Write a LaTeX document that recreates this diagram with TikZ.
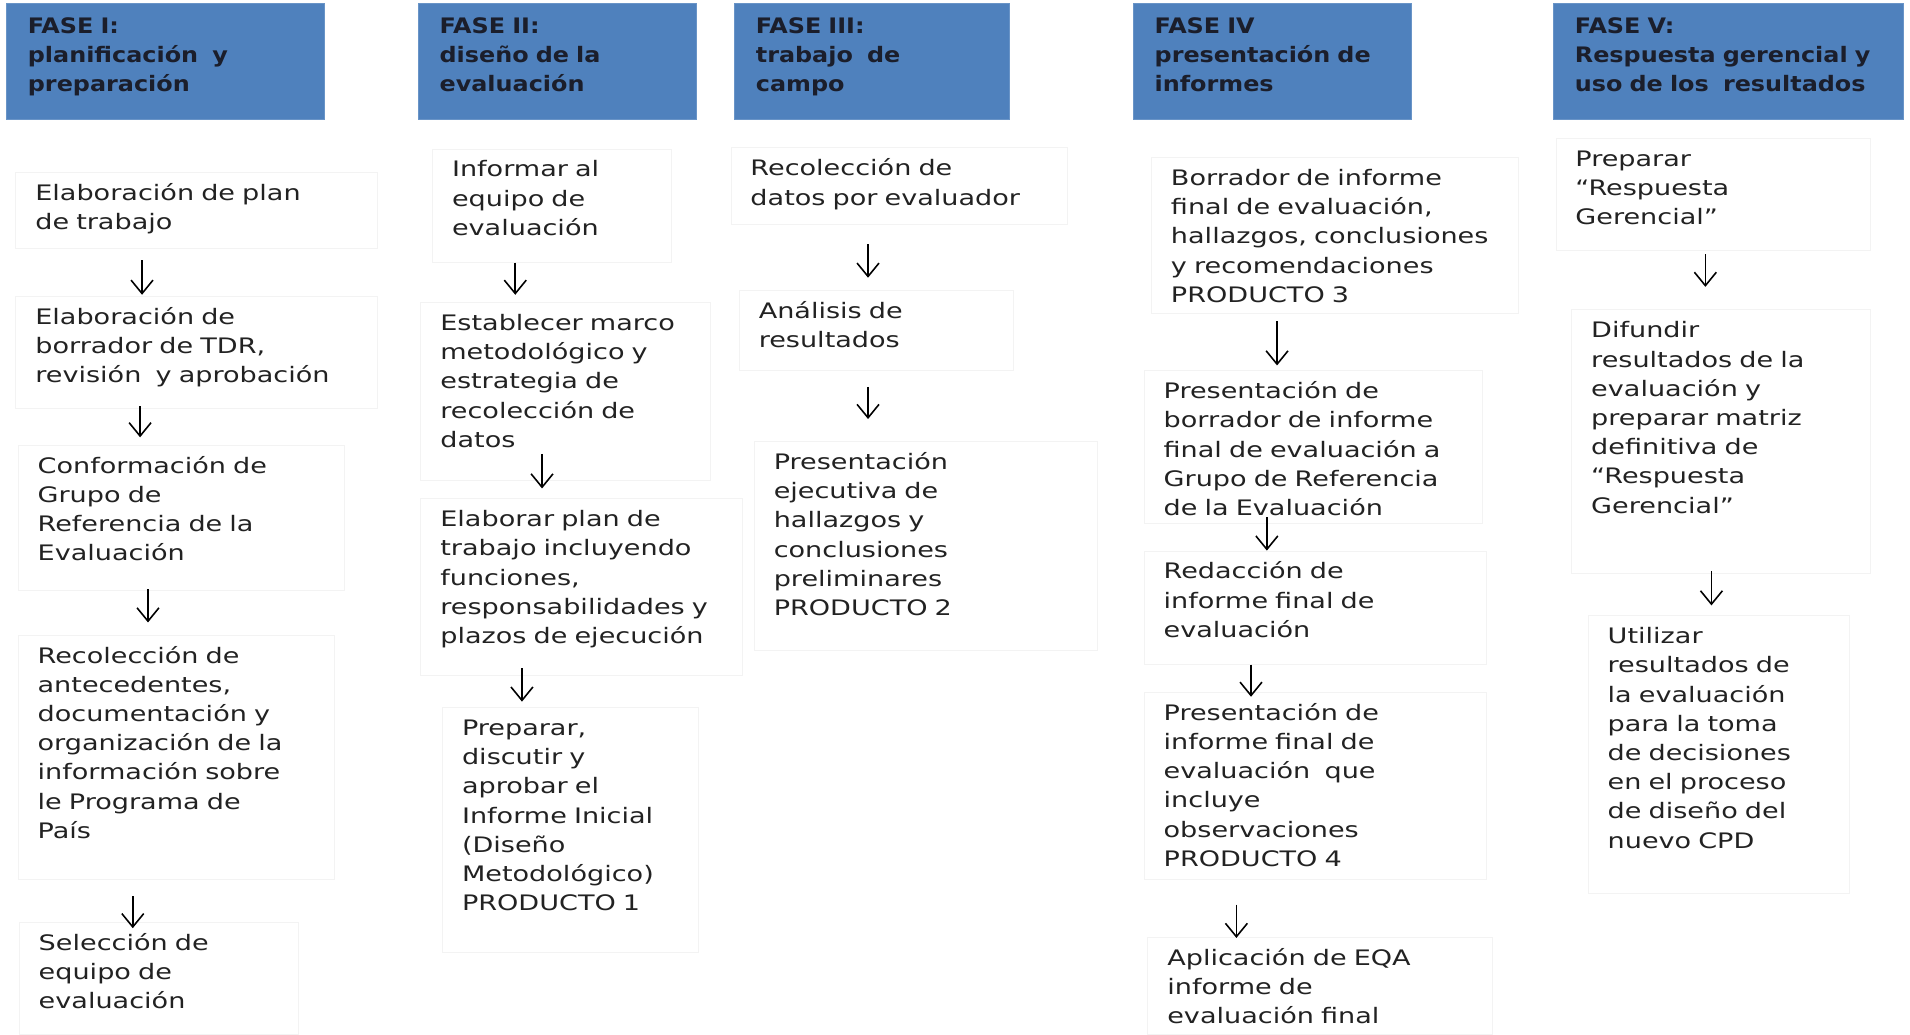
\documentclass[tikz,border=0pt]{standalone}
\usepackage{fontspec}
\usetikzlibrary{arrows.meta}
\newfontfamily\cuerpofont{DejaVu Sans}[FakeStretch=1.27]
\newfontfamily\fasefont{DejaVu Sans}[FakeStretch=1.12]
\definecolor{faseBlue}{HTML}{4F81BD}
\definecolor{faseInk}{HTML}{1B1E2B}
\definecolor{cajaInk}{HTML}{222222}
\definecolor{cajaLine}{HTML}{F3F3F3}
\tikzset{
    fase/.style={fill=faseBlue, draw=faseBlue!85!white, line width=0.8pt, anchor=north west, inner xsep=17.5pt, inner ysep=0pt, text height=25pt, align=left, text=faseInk, font=\fasefont\bfseries\fontsize{17.5}{23.5}\selectfont},
    caja/.style={draw=cajaLine, line width=0.6pt, anchor=north west, inner xsep=16pt, inner ysep=0pt, text height=23pt, align=left, text=cajaInk, font=\cuerpofont\fontsize{17.5}{24}\selectfont},
    flecha/.style={-{Straight Barb[length=11pt,width=18pt]}, line width=1.3pt, draw=black}
}
\begin{document}
\begin{tikzpicture}[x=1pt, y=-1pt]
\fill[white] (0,0) rectangle (1568,849);
\useasboundingbox (0,0) rectangle (1568,849);
\node[fase, text width=226pt, text depth=70pt] (f1) at (5,2.5) {FASE I:\\planificación\ \ y\\preparación};
\node[fase, text width=193pt, text depth=70pt] (f2) at (343,2.5) {FASE II:\\diseño de la\\evaluación};
\node[fase, text width=191pt, text depth=70pt] (f3) at (602.6,2.5) {FASE III:\\trabajo\ \ de\\campo};
\node[fase, text width=193pt, text depth=70pt] (f4) at (930,2.5) {FASE IV\\presentación de\\informes};
\node[fase, text width=252pt, text depth=70pt] (f5) at (1275,2.5) {FASE V:\\Respuesta gerencial y\\uso de los\ \ resultados};
\node[caja, text width=265pt, text depth=39.6pt] (c1a) at (12.7,141) {Elaboración de plan\\de trabajo};
\node[caja, text width=265pt, text depth=69pt] (c1b) at (12.7,243) {Elaboración de\\borrador de TDR,\\revisión\ \ y aprobación};
\node[caja, text width=236pt, text depth=96pt] (c1c) at (14.6,365) {Conformación de\\Grupo de\\Referencia de la\\Evaluación};
\node[caja, text width=228pt, text depth=178pt] (c1d) at (14.6,521) {Recolección de\\antecedentes,\\documentación y\\organización de la\\información sobre\\le Programa de\\País};
\node[caja, text width=197pt, text depth=69pt] (c1e) at (15.5,757) {Selección de\\equipo de\\evaluación};
\node[caja, text width=164pt, text depth=70pt] (c2a) at (354.8,122) {Informar al\\equipo de\\evaluación};
\node[caja, text width=206pt, text depth=123pt] (c2b) at (345.2,248) {Establecer marco\\metodológico y\\estrategia de\\recolección de\\datos};
\node[caja, text width=232pt, text depth=122pt] (c2c) at (345.2,409) {Elaborar plan de\\trabajo incluyendo\\funciones,\\responsabilidades y\\plazos de ejecución};
\node[caja, text width=178pt, text depth=178pt] (c2d) at (363,580.5) {Preparar,\\discutir y\\aprobar el\\Informe Inicial\\(Diseño\\Metodológico)\\PRODUCTO 1};
\node[caja, text width=244pt, text depth=40pt] (c3a) at (599.8,121) {Recolección de\\datos por evaluador};
\node[caja, text width=193pt, text depth=43pt] (c3b) at (606.6,238) {Análisis de\\resultados};
\node[caja, text width=250pt, text depth=149pt] (c3c) at (618.9,362) {Presentación\\ejecutiva de\\hallazgos y\\conclusiones\\preliminares\\PRODUCTO 2};
\node[caja, text width=269pt, text depth=105pt] (c4a) at (945,129) {Borrador de informe\\final de evaluación,\\hallazgos, conclusiones\\y recomendaciones\\PRODUCTO 3};
\node[caja, text width=246pt, text depth=102pt] (c4b) at (939,304) {Presentación de\\borrador de informe\\final de evaluación a\\Grupo de Referencia\\de la Evaluación};
\node[caja, text width=249pt, text depth=70pt] (c4c) at (939,452) {Redacción de\\informe final de\\evaluación};
\node[caja, text width=249pt, text depth=131pt] (c4d) at (939,568) {Presentación de\\informe final de\\evaluación\ \ que\\incluye\\observaciones\\PRODUCTO 4};
\node[caja, text width=251pt, text depth=57pt] (c4e) at (942,769) {Aplicación de EQA\\informe de\\evaluación final};
\node[caja, text width=226pt, text depth=69pt] (c5a) at (1277,113) {Preparar\\“Respuesta\\Gerencial”};
\node[caja, text width=213pt, text depth=193pt] (c5b) at (1290,254) {Difundir\\resultados de la\\evaluación y\\preparar matriz\\definitiva de\\“Respuesta\\Gerencial”};
\node[caja, text width=182pt, text depth=205pt] (c5c) at (1303.5,505) {Utilizar\\resultados de\\la evaluación\\para la toma\\de decisiones\\en el proceso\\de diseño del\\nuevo CPD};
\foreach \desde/\hasta/\xx/\sa/\sb in {c1a/c1b/116.6/9.4/1, c1b/c1c/115/-2/6, c1c/c1d/121.5/-1/10, c1d/c1e/109/13/-5,
    c2a/c2b/423/0/6, c2b/c2c/445/-22/8, c2c/c2d/428.5/-6/4.5,
    c3a/c3b/712.6/16/10, c3b/c3c/712.6/13/18,
    c4a/c4b/1048.4/6/4, c4b/c4c/1040/-5/0, c4c/c4d/1027/0/-4, c4d/c4e/1015/20/-1,
    c5a/c5b/1400/3/18.5, c5b/c5c/1405/-2/8}
    \draw[flecha, shorten <=\sa pt, shorten >=\sb pt] (\xx,0 |- \desde.south) -- (\xx,0 |- \hasta.north);
\end{tikzpicture}
\end{document}
